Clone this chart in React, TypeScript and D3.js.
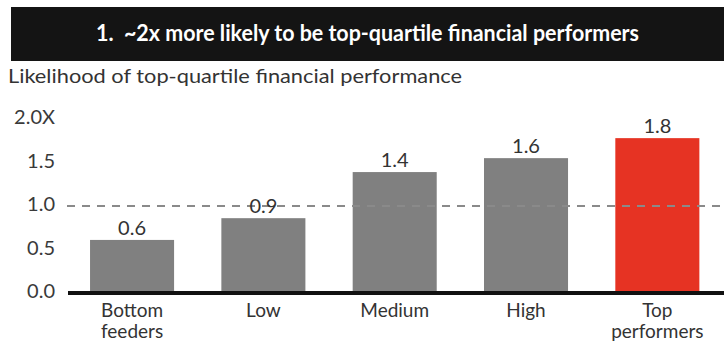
import React from "react";
import * as d3 from "d3";

const categories: string[][] = [["Bottom", "feeders"], ["Low"], ["Medium"], ["High"], ["Top", "performers"]];
const values: number[] = [0.61, 0.86, 1.39, 1.55, 1.78];
const valueLabels: string[] = ["0.6", "0.9", "1.4", "1.6", "1.8"];
const tickValues: number[] = [0, 0.5, 1, 1.5, 2];
const tickLabels: string[] = ["0.0", "0.5", "1.0", "1.5", "2.0X"];
const highlight: boolean[] = [false, false, false, false, true];
const referenceValue = 1;
const title = "1.\u00A0 ~2x more likely to be top-quartile financial performers";
const subtitle = "Likelihood of top-quartile financial performance";

const W = 724;
const H = 350;
const FONT = "Lato, 'Open Sans', sans-serif";

export default function App() {
  const x = d3
    .scaleBand<number>()
    .domain(d3.range(categories.length))
    .range([66.4, 723])
    .paddingInner(0.36)
    .paddingOuter(0.18);
  const y = d3.scaleLinear().domain([0, 2]).range([293, 119]);
  const cx = (i: number) => (x(i) as number) + x.bandwidth() / 2;

  return (
    <svg width={W} height={H} style={{ position: "absolute", left: 0, top: 0, background: "#fff" }} fontFamily={FONT}>
      <rect x={11} y={7} width={W - 11} height={54} fill="#141414" />
      <text
        x={(11 + W) / 2}
        y={41}
        textAnchor="middle"
        fill="#fff"
        fontSize={22}
        fontWeight="bold"
        textLength={543}
        lengthAdjust="spacingAndGlyphs"
      >
        {title}
      </text>
      <text x={8} y={83} fill="#333" fontSize={20} textLength={454} lengthAdjust="spacingAndGlyphs">
        {subtitle}
      </text>

      {tickValues.map((v, i) => (
        <text key={i} x={55} y={y(v) + 5} textAnchor="end" fill="#3a3a3a" fontSize={20}>
          {tickLabels[i]}
        </text>
      ))}

      {values.map((v, i) => (
        <rect
          key={i}
          x={x(i)}
          y={y(v)}
          width={x.bandwidth()}
          height={y(0) - y(v)}
          fill={highlight[i] ? "#e63323" : "#808080"}
        />
      ))}

      <line
        x1={67}
        x2={W}
        y1={y(referenceValue)}
        y2={y(referenceValue)}
        stroke="#8a8a8a"
        strokeWidth={2}
        strokeDasharray="8 7"
      />

      {values.map((v, i) => (
        <text key={i} x={cx(i)} y={y(v) - 5} textAnchor="middle" fill="#333" fontSize={20}>
          {valueLabels[i]}
        </text>
      ))}

      <line x1={68} x2={W} y1={y(0)} y2={y(0)} stroke="#111" strokeWidth={4} />

      {categories.map((lines, i) =>
        lines.map((l, j) => (
          <text key={`${i}-${j}`} x={cx(i)} y={317 + j * 21} textAnchor="middle" fill="#333" fontSize={19}>
            {l}
          </text>
        ))
      )}
    </svg>
  );
}
